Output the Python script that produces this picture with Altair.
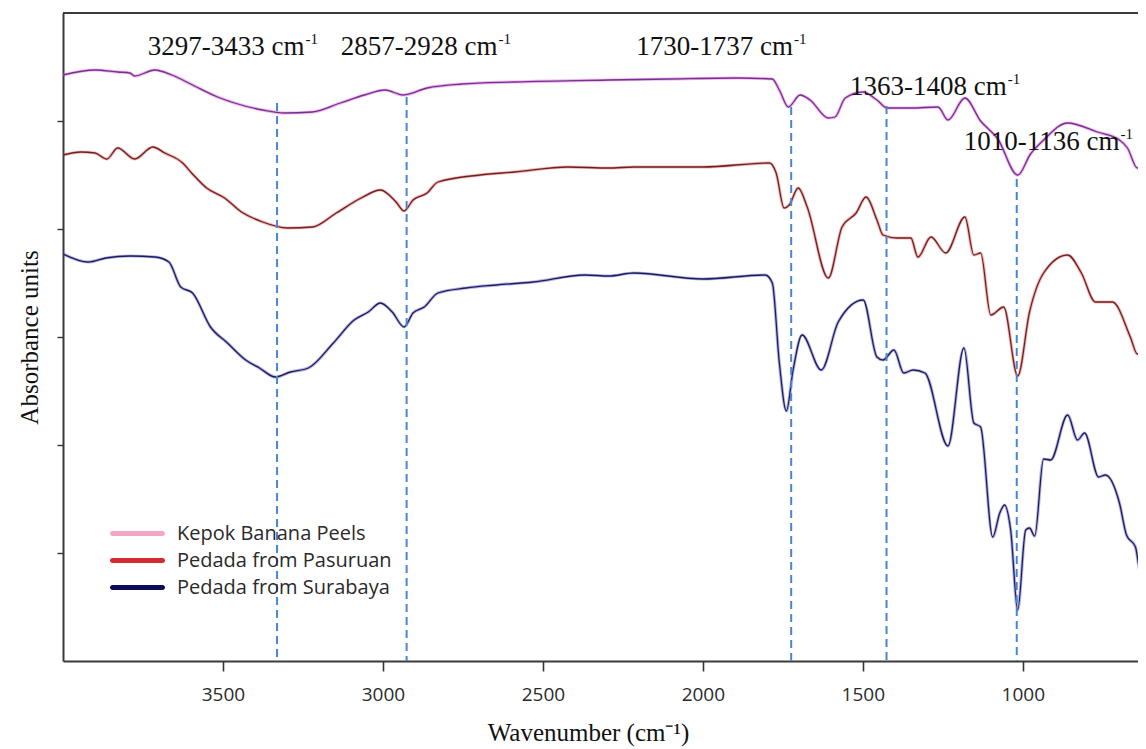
import altair as alt
import pandas as pd

# ---------------- data ----------------
series_names = ["Kepok Banana Peels", "Pedada from Pasuruan", "Pedada from Surabaya"]

kepok_w = [4000,3900,3829,3791,3776,3713,3660,3595,3517,3464,3376,3308,3220,3133,3058,2993,2937,2862,2753,2588,
           2294,2107,1892,1783,1761,1733,1696,1665,1608,1587,1555,1499,1456,1424,1350,1265,1234,1181,1132,1078,
           1016,976,935,860,767,698,673,642,623]
kepok_v = [5.86,5.91,5.89,5.88,5.85,5.91,5.86,5.76,5.64,5.58,5.51,5.48,5.49,5.58,5.66,5.71,5.66,5.73,5.77,5.79,
           5.81,5.82,5.83,5.82,5.71,5.54,5.66,5.61,5.43,5.44,5.63,5.69,5.61,5.53,5.53,5.54,5.41,5.63,5.40,5.22,
           4.86,5.07,5.21,5.38,5.29,5.21,5.13,4.93,5.07]

pasuruan_w = [4000,3944,3900,3863,3829,3776,3719,3682,3626,3598,3551,3495,3442,3376,3298,3220,3146,3068,3008,2959,
              2934,2906,2862,2828,2697,2588,2422,2294,2216,2001,1792,1771,1746,1730,1702,1674,1608,1565,1521,1490,
              1456,1437,1393,1350,1328,1287,1241,1181,1153,1132,1100,1060,1016,979,935,860,817,773,720,664,642,623]
pasuruan_v = [5.06,5.09,5.08,5.02,5.13,5.02,5.14,5.08,4.98,4.88,4.73,4.63,4.49,4.39,4.33,4.34,4.48,4.63,4.71,4.59,
              4.50,4.61,4.68,4.79,4.86,4.89,4.94,4.93,4.94,4.94,4.98,4.88,4.53,4.56,4.73,4.54,3.83,4.34,4.48,4.64,
              4.41,4.26,4.23,4.23,4.04,4.24,4.08,4.44,4.06,4.08,3.46,3.54,2.85,3.49,3.88,4.06,3.88,3.59,3.59,3.24,3.07,3.12]

surabaya_w = [4000,3922,3866,3791,3713,3669,3632,3595,3539,3486,3429,3386,3336,3289,3233,3155,3090,3046,3008,2971,
              2934,2906,2871,2828,2740,2644,2531,2369,2294,2216,2001,1805,1783,1761,1739,1718,1690,1630,1577,1499,
              1456,1437,1403,1372,1343,1306,1234,1184,1153,1132,1094,1072,1057,1038,1016,991,979,963,935,913,
              860,829,807,763,742,698,676,648,632,623]
surabaya_v = [4.07,3.99,4.03,4.05,4.04,3.99,3.74,3.68,3.34,3.18,3.01,2.93,2.84,2.89,2.93,3.18,3.41,3.49,3.58,3.49,
              3.34,3.48,3.54,3.68,3.73,3.76,3.79,3.86,3.85,3.88,3.82,3.86,3.78,2.98,2.50,2.91,3.26,2.91,3.39,3.61,
              3.04,3.01,3.11,2.88,2.91,2.88,2.15,3.13,2.38,2.34,1.24,1.48,1.56,1.31,0.51,1.31,1.33,1.25,2.02,2.01,
              2.46,2.21,2.28,1.84,1.86,1.58,1.26,1.14,0.89,0.89]

# dashed marker lines (wavenumber, top of line)
marker_w = [3331, 2926, 1724, 1426, 1019]
marker_top = [5.58, 5.64, 5.54, 5.55, 4.82]
marker_bottom = [0, 0, 0, 0, 0]

# annotation labels
ann_main = ["3297-3433 cm", "2857-2928 cm", "1730-1737 cm", "1363-1408 cm", "1010-1136 cm"]
ann_sup = ["-1", "-1", "-1", "-1", "-1"]
ann_w = [3245, 2642, 1718, 1050, 698]
ann_v = [6.06, 6.06, 6.06, 5.66, 5.11]

x_ticks = [3500, 3000, 2500, 2000, 1500, 1000]
y_ticks = [1.08, 2.16, 3.24, 4.32, 5.40]

# ---------------- styles ----------------
W, H = 1075, 648
halo_colors = ["#d65ad6", "#e05a5a", "#5a5ac8"]
core_colors = ["#7a2e90", "#702020", "#1d1d5c"]
legend_colors = ["#f4a6c8", "#d42a30", "#0b0b5a"]
SERIF = "Liberation Serif"
SANS = "Open Sans"

frames = []
for name, ws, vs in zip(series_names, [kepok_w, pasuruan_w, surabaya_w], [kepok_v, pasuruan_v, surabaya_v]):
    frames.append(pd.DataFrame({"w": ws, "v": vs, "series": name}))
curves = pd.concat(frames, ignore_index=True)

markers = pd.DataFrame({"w": marker_w, "v": marker_top, "v2": marker_bottom})
ann = pd.DataFrame({"w": ann_w, "v": ann_v, "main": ann_main, "sup": ann_sup})

X = alt.X("w:Q", scale=alt.Scale(domain=[4000, 640], nice=False),
          axis=alt.Axis(values=x_ticks, format="d", grid=False, title="Wavenumber (cm⁻¹)",
                        labelFont=SANS, labelFontSize=19, labelColor="#2a2a2a",
                        labelPadding=14, tickSize=10, tickWidth=1.6, tickColor="#333",
                        domainColor="#3a3a3a", domainWidth=2,
                        titleFont=SERIF, titleFontSize=25, titleFontWeight="normal", titleColor="#111",
                        titleX=525, titleY=79, titleBaseline="alphabetic", titleAlign="center"))
Y = alt.Y("v:Q", scale=alt.Scale(domain=[0, 6.48], nice=False, zero=False),
          axis=alt.Axis(values=y_ticks, labels=False, grid=False, title="Absorbance units",
                        tickSize=6, tickWidth=1.4, tickColor="#333",
                        domainColor="#3a3a3a", domainWidth=2,
                        titleFont=SERIF, titleFontSize=25, titleFontWeight="normal", titleColor="#111",
                        titleX=-26, titleBaseline="alphabetic"))

halo = alt.Chart(curves).mark_line(strokeWidth=3.2, opacity=0.45, clip=True, interpolate="monotone").encode(
    x=X, y=Y,
    stroke=alt.Stroke("series:N", scale=alt.Scale(domain=series_names, range=halo_colors), legend=None),
    detail="series:N")
core = alt.Chart(curves).mark_line(strokeWidth=1.3, clip=True, interpolate="monotone").encode(
    x=X, y=Y,
    stroke=alt.Stroke("series:N", scale=alt.Scale(domain=series_names, range=core_colors), legend=None),
    detail="series:N")

rules = alt.Chart(markers).mark_rule(color="#4a86d0", strokeWidth=2, strokeDash=[8, 5]).encode(
    x=X, y=Y, y2="v2:Q")

ann_text = alt.Chart(ann).mark_text(align="right", baseline="alphabetic", font=SERIF, fontSize=27,
                                    color="#111").encode(x=X, y=Y, text="main:N")
ann_supt = alt.Chart(ann).mark_text(align="left", baseline="alphabetic", font=SERIF, fontSize=15,
                                    color="#111", dx=1, dy=-11).encode(x=X, y=Y, text="sup:N")

top_border = alt.Chart(markers).mark_rule(color="#3a3a3a", strokeWidth=2).encode(
    x=alt.value(0), x2=alt.value(W), y=alt.value(0))

swatch = "M-0.91,-0.09 L0.91,-0.09 A0.09,0.09 0 0 1 0.91,0.09 L-0.91,0.09 A0.09,0.09 0 0 1 -0.91,-0.09 Z"
legend_layer = alt.Chart(curves).mark_point(filled=True, opacity=1).encode(
    x=X, y=Y,
    color=alt.Color("series:N", scale=alt.Scale(domain=series_names, range=legend_colors),
                    legend=alt.Legend(title=None, orient="none", legendX=47, legendY=507,
                                      symbolType=swatch, symbolSize=3025, symbolStrokeWidth=0,
                                      symbolOpacity=1, symbolOffset=0, padding=0, offset=0,
                                      clipHeight=27, rowPadding=0, labelOffset=12,
                                      labelFont=SANS, labelFontSize=20, labelColor="#2a2a2a",
                                      labelLimit=400))
).transform_filter("false")

chart = alt.layer(halo, core, rules, ann_text, ann_supt, top_border, legend_layer).resolve_scale(
    stroke="independent"
).properties(
    width=W, height=H,
    padding={"left": 55, "top": 5, "right": 0, "bottom": 88},
    autosize=alt.AutoSizeParams(type="none"),
    background="white",
).configure_view(stroke=None)

chart.save("out.html", embed_options={"renderer": "svg", "actions": False})
